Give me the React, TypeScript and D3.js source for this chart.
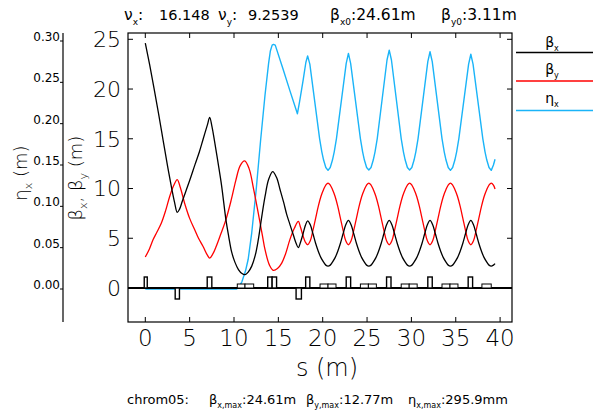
import React from 'react';
import * as d3 from 'd3';

const sTicks = [0, 5, 10, 15, 20, 25, 30, 35, 40];
const betaTicks = [0, 5, 10, 15, 20, 25];
const etaTicks = [0, 0.05, 0.1, 0.15, 0.2, 0.25, 0.3];
const etaTickLabels = ['0.00', '0.05', '0.10', '0.15', '0.20', '0.25', '0.30'];

const betaX: [number, number][] = [
  [0, 24.61], [0.5, 22.4], [1.0, 20.0], [1.5, 17.5], [2.0, 14.9], [2.5, 12.3], [3.0, 9.9], [3.3, 8.6], [3.6, 7.6], [3.85, 7.9], [4.2, 8.8],
  [5.0, 10.8], [5.6, 12.4], [6.1, 13.7], [6.5, 14.9], [7.0, 16.4], [7.26, 17.15], [7.5, 16.3], [7.8, 14.8], [8.2, 12.6], [8.6, 10.3],
  [9.1, 6.8], [9.4, 5.2], [9.74, 3.6], [10.1, 2.6], [10.5, 1.85], [10.9, 1.45], [11.24, 1.34], [11.6, 1.6], [12.0, 2.2], [12.4, 3.3],
  [12.74, 4.86], [13.1, 7.0], [13.5, 9.2], [13.9, 10.9], [14.36, 11.7], [14.8, 11.1], [15.19, 9.9], [15.6, 8.6], [15.94, 7.4], [16.3, 6.4],
  [16.7, 5.3], [17.0, 4.5], [17.25, 4.05], [17.5, 4.6], [17.8, 5.5], [18.05, 6.3], [18.3, 6.75],
  [18.6, 6.35], [18.9, 5.45], [19.2, 4.5], [19.5, 3.7], [19.8, 3.05], [20.1, 2.6], [20.35, 2.3], [20.6, 2.2], [20.85, 2.3], [21.1, 2.6],
  [21.4, 3.05], [21.7, 3.7], [22.0, 4.5], [22.3, 5.45], [22.6, 6.35], [22.9, 6.8], [23.2, 6.35], [23.5, 5.45], [23.8, 4.5], [24.1, 3.7],
  [24.4, 3.05], [24.7, 2.6], [24.95, 2.3], [25.2, 2.2], [25.45, 2.3], [25.7, 2.6], [26.0, 3.05], [26.3, 3.7], [26.6, 4.5], [26.9, 5.45],
  [27.2, 6.35], [27.5, 6.8], [27.8, 6.35], [28.1, 5.45], [28.4, 4.5], [28.7, 3.7], [29.0, 3.05], [29.3, 2.6], [29.55, 2.3], [29.8, 2.2],
  [30.05, 2.3], [30.3, 2.6], [30.6, 3.05], [30.9, 3.7], [31.2, 4.5], [31.5, 5.45], [31.8, 6.35], [32.1, 6.8], [32.4, 6.35], [32.7, 5.45],
  [33.0, 4.5], [33.3, 3.7], [33.6, 3.05], [33.9, 2.6], [34.15, 2.3], [34.4, 2.2], [34.65, 2.3], [34.9, 2.6], [35.2, 3.05], [35.5, 3.7],
  [35.8, 4.5], [36.1, 5.45], [36.4, 6.35], [36.7, 6.8], [37.0, 6.35], [37.3, 5.45], [37.6, 4.5], [37.9, 3.7], [38.2, 3.05], [38.5, 2.6],
  [38.75, 2.3], [39.0, 2.2], [39.25, 2.3], [39.43, 2.45],
];

const betaY: [number, number][] = [
  [0, 3.11], [0.45, 3.9], [0.87, 4.85], [1.3, 5.6], [1.8, 6.5], [2.3, 7.8], [2.75, 9.2], [3.2, 10.3], [3.6, 10.9], [3.95, 10.1], [4.44, 8.5],
  [5.0, 7.0], [5.57, 5.86], [6.0, 5.0], [6.5, 4.2], [7.0, 3.3], [7.26, 3.0], [7.6, 3.4], [8.0, 4.2], [8.5, 5.4], [9.1, 6.9], [9.7, 8.9],
  [10.2, 10.8], [10.7, 12.3], [11.2, 12.77], [11.7, 12.0], [12.2, 10.0], [12.74, 7.5], [13.2, 5.3], [13.5, 3.85], [14.0, 2.3], [14.43, 1.78],
  [14.9, 1.95], [15.38, 2.5], [15.8, 3.4], [16.3, 4.86], [16.8, 6.0], [17.25, 6.7], [17.5, 6.1], [17.8, 5.2], [18.05, 4.6], [18.3, 4.35],
  [18.6, 4.75], [18.9, 5.8], [19.2, 7.0], [19.5, 8.2], [19.8, 9.2], [20.1, 9.9], [20.35, 10.35], [20.6, 10.55], [20.85, 10.35], [21.1, 9.9],
  [21.4, 9.2], [21.7, 8.2], [22.0, 7.0], [22.3, 5.8], [22.6, 4.75], [22.9, 4.35], [23.2, 4.75], [23.5, 5.8], [23.8, 7.0], [24.1, 8.2],
  [24.4, 9.2], [24.7, 9.9], [24.95, 10.35], [25.2, 10.55], [25.45, 10.35], [25.7, 9.9], [26.0, 9.2], [26.3, 8.2], [26.6, 7.0], [26.9, 5.8],
  [27.2, 4.75], [27.5, 4.35], [27.8, 4.75], [28.1, 5.8], [28.4, 7.0], [28.7, 8.2], [29.0, 9.2], [29.3, 9.9], [29.55, 10.35], [29.8, 10.55],
  [30.05, 10.35], [30.3, 9.9], [30.6, 9.2], [30.9, 8.2], [31.2, 7.0], [31.5, 5.8], [31.8, 4.75], [32.1, 4.35], [32.4, 4.75], [32.7, 5.8],
  [33.0, 7.0], [33.3, 8.2], [33.6, 9.2], [33.9, 9.9], [34.15, 10.35], [34.4, 10.55], [34.65, 10.35], [34.9, 9.9], [35.2, 9.2], [35.5, 8.2],
  [35.8, 7.0], [36.1, 5.8], [36.4, 4.75], [36.7, 4.35], [37.0, 4.75], [37.3, 5.8], [37.6, 7.0], [37.9, 8.2], [38.2, 9.2], [38.5, 9.9],
  [38.75, 10.35], [39.0, 10.55], [39.25, 10.35], [39.43, 9.95],
];

const etaX: [number, number][] = [
  [0, 0], [10.3, 0], [10.6, 0.003], [10.9, 0.009], [11.3, 0.022], [11.6, 0.036], [12.0, 0.068], [12.5, 0.12], [13.0, 0.18], [13.5, 0.235], [13.9, 0.273],
  [14.1, 0.288], [14.3, 0.295], [14.45, 0.2959], [14.65, 0.295], [15.5, 0.267], [16.3, 0.24], [17.15, 0.212], [17.4, 0.227], [17.8, 0.253], [18.1, 0.274],
  [18.3, 0.282], [18.55, 0.272], [19.65, 0.182], [19.9, 0.166], [20.1, 0.156], [20.35, 0.147], [20.6, 0.1435], [20.85, 0.147], [21.1, 0.156], [21.3, 0.166], [21.55, 0.182],
  [22.65, 0.273], [22.9, 0.285], [23.15, 0.273], [24.25, 0.182], [24.5, 0.166], [24.7, 0.156], [24.95, 0.147], [25.2, 0.144], [25.45, 0.147], [25.7, 0.156], [25.9, 0.166],
  [26.15, 0.182], [27.25, 0.277], [27.5, 0.289], [27.75, 0.277], [28.85, 0.182], [29.1, 0.166], [29.3, 0.156], [29.55, 0.147], [29.8, 0.144], [30.05, 0.147],
  [30.3, 0.156], [30.5, 0.166], [30.75, 0.182], [31.85, 0.275], [32.1, 0.287], [32.35, 0.275], [33.45, 0.182], [33.7, 0.166], [33.9, 0.156], [34.15, 0.147], [34.4, 0.1435],
  [34.65, 0.147], [34.9, 0.156], [35.1, 0.166], [35.35, 0.182], [36.45, 0.272], [36.7, 0.284], [36.95, 0.272], [38.05, 0.182], [38.3, 0.166], [38.5, 0.156], [38.75, 0.147],
  [39.0, 0.1435], [39.25, 0.15], [39.43, 0.157],
];

const quadF: [number, number][] = [[-0.12, 0.22], [6.98, 7.5], [13.8, 14.3], [14.3, 14.8], [18.08, 18.55], [22.65, 23.15], [27.2, 27.7], [31.85, 32.35], [36.4, 36.9]];
const quadD: [number, number][] = [[3.37, 3.85], [17.0, 17.6]];
const dipoles: [number, number][] = [[10.37, 11.24], [11.24, 12.22], [19.7, 20.6], [20.6, 21.5], [24.25, 25.15], [25.15, 26.05], [28.85, 29.75], [29.75, 30.65], [33.45, 34.35], [34.35, 35.25], [37.95, 39.0]];

const BLACK = '#000000';
const RED = '#ff0000';
const CYAN = '#1ab4f8';
const FONT = "'DejaVu Sans', sans-serif";

// label text: base glyph, subscript, then following text
function Lbl({ x, y, base, sub, rest, size, subSize, weight, anchor }: {
  x: number; y: number; base: string; sub: string; rest?: string; size: number; subSize: number; weight?: number; anchor?: string;
}) {
  const d = size * 0.3;
  return (
    <text x={x} y={y} fontSize={size} fontWeight={weight ?? 400} textAnchor={anchor ?? 'start'} fill="#000">
      <tspan>{base}</tspan>
      <tspan fontSize={subSize} dy={d}>{sub}</tspan>
      {rest ? <tspan dy={-d}>{rest}</tspan> : null}
    </text>
  );
}

export default function App() {
  const L = 128, R = 512, T = 33, B = 322;
  const x = d3.scaleLinear().domain([0, 40]).range([145.3, 500.1]);
  const yB = d3.scaleLinear().domain([0, 25]).range([288, 39.3]);
  const yE = d3.scaleLinear().domain([0, 0.3]).range([289, 41]);

  const lineB = d3.line<[number, number]>().x(d => x(d[0])).y(d => yB(d[1])).curve(d3.curveCatmullRom.alpha(0.5));
  const lineE = d3.line<[number, number]>().x(d => x(d[0])).y(d => yE(d[1])).curve(d3.curveLinear);

  const zeroY = yB(0);

  return (
    <svg width={593} height={410} style={{ position: 'absolute', left: 0, top: 0, background: '#fff' }} fontFamily={FONT}>
      <rect x={0} y={0} width={593} height={410} fill="#fff" />
      {/* title */}
      <Lbl x={124} y={20} base="ν" sub="x" rest=":" size={15.5} subSize={9} />
      <text x={159} y={20} fontSize={14.5}>16.148</text>
      <Lbl x={218} y={20} base="ν" sub="y" rest=":" size={15.5} subSize={9} />
      <text x={248} y={20} fontSize={14.5}>9.2539</text>
      <Lbl x={330} y={20} base="β" sub="x0" rest=":24.61m" size={15.5} subSize={9} />
      <Lbl x={441} y={20} base="β" sub="y0" rest=":3.11m" size={15.5} subSize={9} />

      {/* eta axis */}
      <line x1={63} x2={63} y1={T} y2={B} stroke="#000" strokeWidth={1.2} />
      {etaTicks.map((t, i) => (
        <g key={'et' + i}>
          <line x1={60} x2={63} y1={yE(t)} y2={yE(t)} stroke="#000" />
          <text x={60} y={yE(t)} textAnchor="end" fontSize={12}>{etaTickLabels[i]}</text>
        </g>
      ))}
      <g transform="translate(27,173) rotate(-90)">
        <Lbl x={0} y={0} base="η" sub="x" rest=" (m)" size={18} subSize={11} anchor="middle" weight={200} />
      </g>
      <g transform="translate(82,178) rotate(-90)">
        <text x={0} y={0} fontSize={18} fontWeight={200} textAnchor="middle">
          <tspan>β</tspan>
          <tspan fontSize={11} dy={5.4}>x</tspan>
          <tspan dy={-5.4}>,  β</tspan>
          <tspan fontSize={11} dy={5.4}>y</tspan>
          <tspan dy={-5.4}> (m)</tspan>
        </text>
      </g>

      {/* beta axis labels */}
      {betaTicks.map(t => (
        <text key={'bl' + t} x={121} y={yB(t)} dy="0.36em" textAnchor="end" fontSize={22} fontWeight={200}>{t}</text>
      ))}

      {/* frame */}
      <rect x={L} y={T} width={R - L} height={B - T} fill="none" stroke="#000" strokeWidth={1.2} />
      {sTicks.map(t => (
        <g key={'st' + t}>
          <line x1={x(t)} x2={x(t)} y1={T} y2={T + 5} stroke="#000" />
          <line x1={x(t)} x2={x(t)} y1={B} y2={B - 5} stroke="#000" />
          <text x={x(t)} y={346} textAnchor="middle" fontSize={23} fontWeight={200}>{t}</text>
        </g>
      ))}
      {betaTicks.map(t => (
        <g key={'bt' + t}>
          <line x1={L} x2={L + 5} y1={yB(t)} y2={yB(t)} stroke="#000" />
          <line x1={R} x2={R - 5} y1={yB(t)} y2={yB(t)} stroke="#000" />
        </g>
      ))}
      <text x={327} y={376} textAnchor="middle" fontSize={24} fontWeight={200}>s  (m)</text>

      {/* curves */}
      <path d={lineE(etaX) || ''} fill="none" stroke={CYAN} strokeWidth={1.4} strokeLinejoin="round" />
      <path d={lineB(betaY) || ''} fill="none" stroke={RED} strokeWidth={1.3} />
      <path d={lineB(betaX) || ''} fill="none" stroke={BLACK} strokeWidth={1.3} />

      {/* lattice */}
      <line x1={L} x2={R} y1={zeroY} y2={zeroY} stroke="#000" strokeWidth={2} />
      {dipoles.map((d, i) => (
        <rect key={'dp' + i} x={x(d[0])} y={zeroY - 4} width={x(d[1]) - x(d[0])} height={4} fill="#fff" stroke="#000" strokeWidth={1} />
      ))}
      {quadF.map((d, i) => (
        <rect key={'qf' + i} x={x(d[0])} y={zeroY - 11} width={x(d[1]) - x(d[0])} height={11} fill="#fff" stroke="#000" strokeWidth={1.4} />
      ))}
      {quadD.map((d, i) => (
        <rect key={'qd' + i} x={x(d[0])} y={zeroY} width={x(d[1]) - x(d[0])} height={11} fill="#fff" stroke="#000" strokeWidth={1.4} />
      ))}

      {/* legend */}
      <Lbl x={552} y={47} base="β" sub="x" size={14} subSize={8} anchor="middle" />
      <line x1={516} x2={593} y1={52.5} y2={52.5} stroke={BLACK} strokeWidth={1.3} />
      <Lbl x={552} y={74} base="β" sub="y" size={14} subSize={8} anchor="middle" />
      <line x1={516} x2={593} y1={81} y2={81} stroke={RED} strokeWidth={1.3} />
      <Lbl x={552} y={103} base="η" sub="x" size={14} subSize={8} anchor="middle" />
      <line x1={516} x2={593} y1={110.5} y2={110.5} stroke={CYAN} strokeWidth={1.3} />

      {/* bottom info */}
      <text x={127} y={404} fontSize={13}>chrom05:</text>
      <Lbl x={209} y={404} base="β" sub="x,max" rest=":24.61m" size={13} subSize={8} />
      <Lbl x={306} y={404} base="β" sub="y,max" rest=":12.77m" size={13} subSize={8} />
      <Lbl x={408} y={404} base="η" sub="x,max" rest=":295.9mm" size={13} subSize={8} />
    </svg>
  );
}
